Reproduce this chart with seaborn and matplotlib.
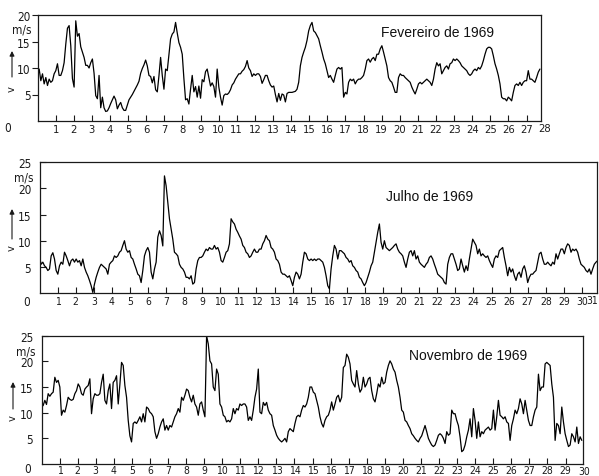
import numpy as np
import pandas as pd
import matplotlib
matplotlib.use("Agg")
import matplotlib.pyplot as plt
import seaborn as sns

# Wind speed records (m/s), evenly sampled along each month
feb_speed = [
    8.2, 9.8, 7.6, 8.9, 7.0, 8.2, 6.7, 7.9, 7.3, 7.6, 8.9, 9.5, 10.8, 8.6, 8.6, 9.5,
    11.0, 14.5, 17.5, 18.0, 14.2, 8.0, 6.4, 18.9, 16.0, 16.5, 14.0, 13.0, 12.0, 10.5,
    10.5, 10.0, 11.0, 11.7, 9.0, 4.8, 4.2, 8.6, 2.5, 4.5, 2.5, 1.8, 1.9, 2.5, 3.3, 4.0,
    4.7, 4.0, 2.3, 3.0, 3.5, 2.5, 2.0, 2.0, 3.0, 4.0, 4.5, 5.0, 5.6, 6.2, 6.8, 7.5,
    9.0, 9.9, 10.6, 11.5, 10.4, 8.6, 8.4, 7.2, 8.4, 5.9, 5.5, 8.5, 12.0, 8.6, 6.0, 9.8,
    9.5, 12.5, 15.5, 16.4, 16.8, 18.6, 16.6, 14.8, 13.9, 12.6, 8.0, 4.0, 4.2, 3.2, 6.0,
    8.6, 5.5, 6.5, 4.5, 6.6, 4.3, 7.8, 7.4, 9.3, 9.8, 8.2, 6.6, 7.2, 6.5, 4.5, 9.8, 6.4,
    4.5, 3.0, 4.8, 5.1, 5.0, 5.3, 5.9, 6.8, 7.2, 7.9, 8.4, 8.9, 8.9, 9.4, 9.7, 10.3,
    11.4, 10.0, 9.5, 8.4, 8.9, 8.6, 8.9, 8.9, 8.4, 7.1, 7.8, 8.6, 8.6, 7.6, 6.8, 6.4,
    6.6, 5.0, 3.6, 5.2, 3.9, 5.1, 4.9, 3.6, 5.2, 5.4,
    5.4, 5.4, 5.5, 5.6, 6.0, 7.3, 10.4, 12.0, 13.0, 13.9, 15.2, 17.0, 18.0, 18.6, 17.0,
    16.7, 16.1, 15.5, 14.2, 13.0, 11.7, 10.8, 9.5, 8.2, 8.6, 7.9, 7.3, 8.6, 9.8, 10.1,
    9.8, 10.1, 4.5, 5.4, 5.1, 7.3, 7.9, 7.6, 7.9, 7.0, 7.6, 7.9, 7.9, 8.2, 8.6, 9.8,
    11.4, 11.7, 11.1, 11.7, 12.0, 11.4, 12.6, 12.6, 13.6, 14.2, 13.0, 11.7, 10.4, 8.2,
    7.6, 7.3, 6.4, 5.4, 5.4, 8.2, 8.9, 8.6, 8.6, 8.2, 7.9, 7.6, 7.3, 6.4, 5.7, 5.1,
    6.0, 7.0, 7.3, 7.0, 7.3, 7.6, 7.9, 7.6, 7.3, 6.7, 7.9, 9.8, 11.0, 10.4, 10.8, 8.9,
    9.5, 10.1, 10.4, 9.8, 10.8, 11.0, 11.7, 11.4, 11.7, 11.4, 11.0, 10.4, 10.1, 9.8,
    9.5, 8.9, 8.6, 8.9, 9.5, 9.8, 9.5, 10.1, 9.8, 10.4, 11.4, 12.6, 13.6, 13.9, 13.9,
    13.6, 12.3, 10.8, 9.8, 8.6, 7.0, 4.5, 4.2, 4.2, 3.8, 4.5, 4.2, 3.8, 5.4, 6.7, 7.0,
    6.7, 7.3, 6.7, 7.3, 7.6, 7.6, 9.5, 7.9, 7.9, 7.6, 7.3, 8.2, 9.2, 9.8,
]

jul_speed = [
    6.8, 5.5, 5.9, 5.2, 4.9, 4.3, 4.6, 7.1, 7.7, 6.5, 4.3, 3.6, 5.2, 5.9, 5.5, 7.8,
    7.1, 6.2, 5.2, 6.2, 6.5, 5.9, 6.5, 5.9, 6.2, 5.2, 6.5, 4.9, 4.0, 3.3, 2.4, 1.4,
    0.1, 1.7, 3.0, 4.0, 4.9, 5.5, 5.2, 4.9, 4.6, 3.6, 5.5, 5.9, 6.2, 7.1, 6.8, 7.1,
    7.8, 8.1, 9.1, 10.0, 8.4, 7.8, 8.1, 6.8, 6.5, 5.5, 4.6, 3.6, 3.3, 2.0, 4.3, 7.1,
    8.1, 8.7, 7.8, 4.0, 2.7, 4.6, 5.9, 10.7, 11.9, 11.0, 9.0, 22.4, 20.5, 17.3, 14.2,
    12.2, 10.3, 7.8, 7.5, 7.1, 5.5, 4.9, 4.6, 4.0, 3.0, 3.0, 2.7, 3.3, 1.7, 2.0, 4.6,
    6.2, 6.8, 6.8, 7.1, 7.8, 8.4, 8.1, 8.7, 8.4, 8.4, 9.1, 8.4, 8.7, 7.8, 6.2, 5.9,
    6.8, 7.8, 8.1, 9.4, 14.2, 13.6, 13.2, 12.2, 11.6, 10.9, 10.3, 9.1, 8.7, 7.8, 7.5,
    6.8, 7.1, 7.8, 8.4, 7.8, 7.8, 8.4, 8.4, 9.4, 10.0, 11.0, 10.3, 10.0, 8.7, 8.4,
    7.8, 6.5, 6.2, 5.5, 4.0, 3.6, 3.6, 3.3, 3.0,
    3.3, 2.4, 1.4, 3.0, 4.0, 3.6, 2.7, 3.6, 5.9, 7.8, 7.5, 6.5, 6.2, 6.5, 6.2, 6.5,
    6.2, 6.5, 6.5, 6.2, 5.9, 4.9, 3.3, 1.4, 0.8, 4.6, 7.1, 9.1, 8.4, 6.5, 8.1, 8.1,
    7.8, 7.5, 6.8, 6.5, 5.9, 6.2, 5.2, 4.9, 4.3, 4.0, 3.0, 2.7, 2.0, 1.4, 2.0, 3.0,
    4.0, 5.2, 5.9, 7.8, 9.7, 11.6, 13.2, 9.7, 8.4, 10.0, 8.7, 8.4, 8.1, 8.4, 8.7, 9.1,
    9.4, 8.4, 7.8, 7.5, 7.1, 5.9, 4.9, 6.5, 7.8, 8.1, 7.1, 8.1, 6.5, 7.1, 5.9, 5.5,
    5.2, 4.9, 5.5, 5.9, 6.8, 7.1, 6.5, 5.5, 4.6, 3.6, 3.3, 3.0, 2.7, 2.0, 1.7, 5.5,
    6.8, 7.5, 7.5, 6.5, 5.5, 4.3, 4.6, 6.5, 5.2, 4.0, 5.2, 4.3, 6.5, 8.4, 10.3, 9.7,
    9.1, 7.5, 8.4, 7.1, 7.5, 7.1, 6.8, 7.1, 6.2, 5.5, 4.9, 6.5, 7.1, 6.8, 8.1, 8.4,
    8.7, 6.8, 5.2, 3.3, 4.9, 4.0, 4.6, 3.3, 2.4, 3.6, 4.0, 3.0, 4.6, 5.2, 4.0, 2.0,
    3.0, 3.6, 3.6, 4.0, 4.3, 5.9, 7.5, 7.8, 6.5, 5.5, 5.5, 5.9, 5.5, 5.2, 5.9, 5.5,
    7.5, 6.5, 7.5, 8.4, 8.4, 7.5, 8.7, 9.4, 9.1, 7.8, 8.4, 8.1, 8.4, 7.8, 6.5, 5.5,
    5.2, 4.9, 4.3, 4.0, 4.6, 3.6, 4.6, 5.5, 5.9, 6.2,
]

nov_speed = [
    11.1, 11.4, 12.4, 11.6, 13.7, 13.2, 13.7, 14.0, 16.9, 15.9, 16.3, 15.0, 9.5, 10.5,
    10.1, 11.4, 13.0, 12.6, 12.4, 12.6, 13.7, 14.3, 15.6, 15.0, 13.7, 13.4, 14.6, 15.0,
    15.3, 16.6, 9.8, 12.7, 13.7, 13.4, 13.4, 13.7, 15.9, 17.5, 12.4, 11.7, 14.3, 15.6,
    10.8, 15.9, 16.3, 17.2, 11.7, 15.5, 19.8, 19.2, 15.3, 13.0, 8.5, 5.5, 4.3, 7.9,
    8.2, 7.9, 8.5, 9.2, 8.2, 9.8, 8.2, 11.1, 10.8, 10.1, 9.8, 9.2, 6.3, 5.0, 5.9, 7.2,
    8.2, 8.8, 6.6, 7.5, 6.6, 7.5, 7.2, 8.2, 9.2, 9.8, 10.8, 10.1, 13.0, 12.4, 13.4,
    14.6, 14.3, 13.0, 12.1, 13.4, 11.7, 11.1, 9.5, 11.7, 12.1, 10.5, 9.2, 25.0, 23.4,
    20.1, 19.5, 15.0, 14.3, 18.5, 17.5, 11.7, 11.1, 9.5, 9.2, 8.2, 8.5, 8.2, 8.8, 10.8,
    9.8, 10.8, 10.5, 11.7, 11.4, 11.7, 11.7, 11.1, 8.5, 9.2, 8.5, 10.5, 13.0, 14.6,
    18.5, 10.1, 9.8, 12.0, 11.4, 12.0, 10.5, 9.8, 9.5, 7.5, 6.6, 5.6, 5.0, 4.6, 4.3,
    4.6, 5.0, 4.3, 6.3,
    6.9, 6.6, 6.3, 7.9, 9.2, 9.5, 9.2, 10.5, 11.4, 11.1, 11.7, 13.0, 15.0, 15.0, 14.0,
    13.7, 12.4, 11.1, 9.2, 7.9, 7.2, 8.5, 9.2, 9.5, 10.5, 12.1, 10.5, 11.7, 13.0, 13.4,
    12.1, 13.0, 18.8, 19.2, 21.4, 20.8, 19.5, 16.3, 15.6, 15.0, 18.2, 15.6, 14.0, 14.6,
    16.9, 15.0, 15.6, 16.6, 16.9, 14.3, 12.7, 12.1, 13.7, 15.6, 15.0, 16.9, 15.6, 15.9,
    17.9, 19.2, 20.1, 19.5, 18.5, 17.9, 16.3, 15.0, 13.0, 10.5, 10.1, 8.5, 8.2, 7.5,
    6.9, 5.9, 5.5, 5.0, 4.6, 4.3, 5.0, 5.5, 6.5, 7.5, 6.3, 5.0, 4.3, 3.7, 3.4, 3.7, 4.6,
    5.6, 5.9, 5.6, 5.0, 4.0, 6.3, 5.6, 5.9, 10.5, 9.8, 9.8, 8.5, 7.5, 5.3, 2.4, 2.7,
    3.7, 5.3, 6.6, 8.8, 5.3, 10.8, 8.5, 5.0, 8.2, 5.3, 6.3, 5.9, 6.6, 6.9, 7.2, 6.6,
    6.9, 10.5, 6.6, 9.2, 12.4, 9.5, 9.2, 8.8, 9.2, 8.2, 7.9, 4.6, 7.5, 8.8, 10.5, 9.8,
    10.8, 12.7, 11.7, 9.8, 12.4, 10.5, 8.5, 7.5, 7.5, 9.2, 10.5, 11.1, 17.5, 14.3, 15.0,
    15.0, 19.5, 19.8, 19.5, 19.2, 15.6, 13.0, 4.6, 7.9, 7.5, 5.9, 11.1, 8.2, 5.9, 4.6,
    3.4, 3.7, 5.9, 5.3, 4.3, 7.2, 4.0, 5.3, 4.6,
]

# Days covered by each record and the month captions
feb_span, jul_span, nov_span = 27.74, 30.87, 29.9
titles = ["Fevereiro de 1969", "Julho de 1969", "Novembro de 1969"]
month_days = [28, 31, 30]
y_max = [20, 25, 25]

sns.set_theme(style="white")
plt.rcParams["font.family"] = ["Liberation Sans Narrow", "DejaVu Sans"]
plt.rcParams["font.stretch"] = "condensed"

fig = plt.figure(figsize=(5.99, 4.77), dpi=100)
W, H = 599.0, 477.0

# frame boxes in pixels: left, right, top, bottom
frames = [(37.5, 541.0, 16.0, 122.0), (39.5, 597.3, 163.3, 294.0), (41.5, 582.7, 336.7, 465.0)]
spans = [feb_span, jul_span, nov_span]
speeds = [feb_speed, jul_speed, nov_speed]
xmax = [27.8, 30.85, 29.95]
ytick_dir = ["out", "in", "in"]
title_pos = [(0.794, 0.84), (0.70, 0.74), (0.788, 0.846)]
unit_y = [17.4, 22.2, 22.1]
zero_pos = [(8, 128), (27, 302), (28, 470)]
arrows = [(12, 78, 52, 89), (12, 240, 210, 248), (13, 410, 383, 418)]
xlab_size = [8, 7.5, 7.5]
xlab_pad = [2, 2, 1]

for i in range(3):
    l, r, t, b = frames[i]
    ax = fig.add_axes([l / W, 1 - b / H, (r - l) / W, (b - t) / H])
    v = speeds[i]
    df = pd.DataFrame({"dia": np.linspace(0, spans[i], len(v)), "v": v})
    sns.lineplot(data=df, x="dia", y="v", ax=ax, color="black", linewidth=0.9,
                 estimator=None, sort=False)
    ax.set_xlim(0, xmax[i])
    ax.set_ylim(0, y_max[i])
    ax.set_xlabel("")
    ax.set_ylabel("")
    for s in ax.spines.values():
        s.set_color("#1a1a1a")
        s.set_linewidth(0.9)

    days = list(range(1, month_days[i] + 1))
    inside = [d for d in days if d <= xmax[i]]
    ax.set_xticks(inside)
    ax.set_xticklabels([str(d) for d in inside])
    for d in days:
        if d > xmax[i]:
            # last day label sits just past the frame edge
            x_fig = ax.transData.transform((d, 0))[0]
            x_fig = min(x_fig + 6, W - 0.5)
            fig.text(x_fig / W, 1 - (b + 2) / H, str(d), ha="right", va="top",
                     fontsize=xlab_size[i], color="#1a1a1a")
    ax.tick_params(axis="x", direction="in", length=4, width=0.8, pad=xlab_pad[i],
                   labelsize=xlab_size[i], colors="#1a1a1a", bottom=True)

    yt = list(range(5, y_max[i] + 1, 5))
    ax.set_yticks(yt)
    ax.set_yticklabels([str(y) for y in yt])
    ax.tick_params(axis="y", direction=ytick_dir[i], length=4, width=0.8,
                   pad=1 if ytick_dir[i] == "out" else 6, labelsize=8.5,
                   colors="#1a1a1a", left=True)
    ax.text(-0.012 if i == 0 else -0.011, unit_y[i], "m/s",
            transform=ax.get_yaxis_transform(), ha="right", va="center",
            fontsize=8.5, color="#1a1a1a")

    ax.text(title_pos[i][0], title_pos[i][1], titles[i], transform=ax.transAxes,
            ha="center", va="center", fontsize=10, family="Liberation Sans",
            fontstretch="normal", color="#111111")

    zx, zy = zero_pos[i]
    fig.text(zx / W, 1 - zy / H, "0", ha="center", va="center", fontsize=8.5,
             color="#1a1a1a")

    ax_x, y0, y1, yv = arrows[i]
    fig.text(ax_x / W, 1 - yv / H, "v", rotation=90, ha="center", va="center",
             fontsize=8, color="#1a1a1a")
    ax.annotate("", xy=(ax_x, H - y1), xytext=(ax_x, H - y0),
                xycoords="figure pixels", textcoords="figure pixels",
                arrowprops=dict(arrowstyle="-|>", lw=0.8, color="#1a1a1a",
                                mutation_scale=7, shrinkA=0, shrinkB=0))

fig.savefig("out.png", dpi=100, facecolor="white")
